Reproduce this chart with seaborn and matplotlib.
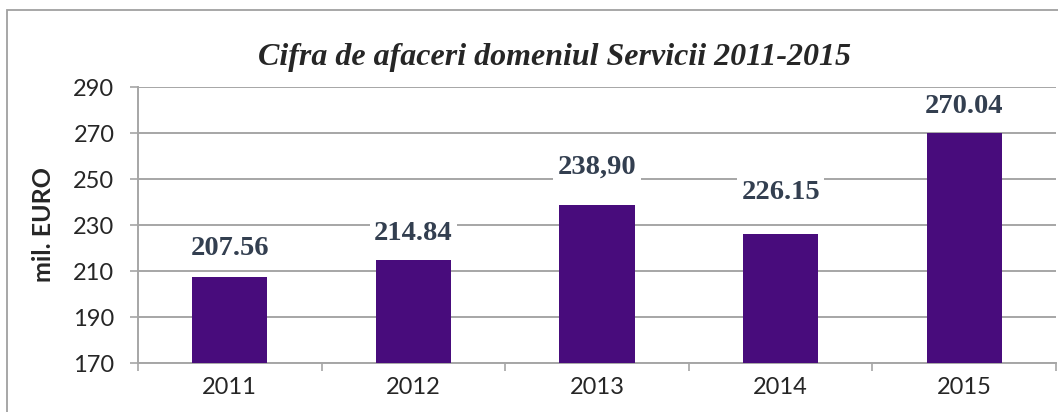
import matplotlib
matplotlib.use("Agg")
import matplotlib.pyplot as plt
import seaborn as sns
from matplotlib.patches import Rectangle

# Daten
years = ["2011", "2012", "2013", "2014", "2015"]
values = [207.56, 214.84, 238.90, 226.15, 270.04]
value_labels = ["207.56", "214.84", "238,90", "226.15", "270.04"]
y_ticks = [170, 190, 210, 230, 250, 270, 290]

label_offsets = [20, 19, 27, 30, 19]   # Abstand der Beschriftung über dem Balken (pt)

sns.set_theme(style="white")
plt.rcParams["font.family"] = ["Lato", "DejaVu Sans"]

fig = plt.figure(figsize=(10.58, 4.12), dpi=100)
ax = fig.add_axes([138 / 1058, 1 - 363 / 412, (1056 - 138) / 1058, (363 - 87) / 412])

sns.barplot(x=years, y=values, color="#480c7c", saturation=1, width=0.41, linewidth=0, ax=ax, zorder=3)

ax.set_ylim(170, 290)
ax.set_xlim(-0.5, 4.5)
ax.set_yticks(y_ticks)
ax.set_yticklabels([str(t) for t in y_ticks], fontsize=17)
ax.yaxis.grid(True, color="#a6a6a6", linewidth=1.4)
ax.set_axisbelow(True)

# Achsen und Ticks
for s in ["top", "right"]:
    ax.spines[s].set_visible(False)
ax.spines["left"].set_color("#a6a6a6")
ax.spines["bottom"].set_color("#a6a6a6")
ax.spines["left"].set_linewidth(1.4)
ax.spines["bottom"].set_linewidth(1.4)
ax.tick_params(axis="y", length=6, width=1.2, color="#a6a6a6", direction="out", pad=11, left=True)
ax.set_xticks(range(len(years)))
ax.set_xticklabels(years, fontsize=17)
ax.set_xticks([i - 0.5 for i in range(len(years) + 1)], minor=True)
ax.tick_params(axis="x", which="major", length=0, pad=10)
ax.tick_params(axis="x", which="minor", length=6, width=1.2, color="#a6a6a6", direction="out", bottom=True)
ax.set_xlabel("")

ax.set_ylabel("mil. EURO", fontsize=18, fontweight="bold", family=["Lato"], labelpad=13)

# Wertebeschriftungen
for i, (v, lab) in enumerate(zip(values, value_labels)):
    ax.annotate(lab, xy=(i, v), xytext=(0, label_offsets[i]), textcoords="offset points",
                ha="center", va="center", fontsize=20.5, fontweight="bold", color="#333f50",
                family=["Liberation Serif"], zorder=5,
                bbox=dict(facecolor="white", edgecolor="none", pad=3))

fig.text(555 / 1058, 1 - 57 / 412, "Cifra de afaceri domeniul Servicii 2011-2015",
         ha="center", va="center", fontsize=23, fontweight="bold", style="italic",
         family=["Liberation Serif"])

# Rahmen des Diagramms
fig.patches.append(Rectangle((7 / 1058, -0.2), 1.2, 1.2 - 10 / 412, transform=fig.transFigure,
                             fill=False, edgecolor="#a0a0a0", linewidth=1.3, clip_on=False))

fig.savefig("out.png", dpi=100)
